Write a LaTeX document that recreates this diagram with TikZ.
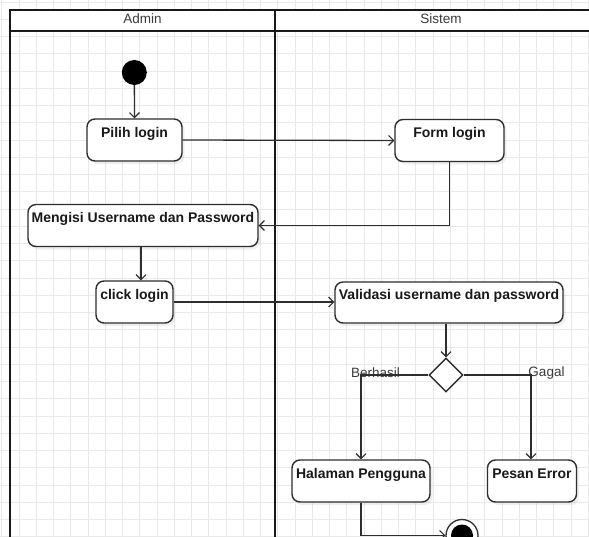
\documentclass[tikz,border=0pt]{standalone}
\usepackage{fontspec}
\setmainfont{Liberation Sans}
\usetikzlibrary{arrows.meta,shapes.geometric,shadows}

\definecolor{gridline}{HTML}{E9E9E9}
\definecolor{ink}{HTML}{2E2E2E}
\definecolor{labelgray}{HTML}{3A3A3A}

\tikzset{
  lane/.style={line width=2pt, draw=black!90},
  action/.style={draw=ink, line width=1.4pt, rounded corners=8pt, fill=white,
    drop shadow={opacity=0.12, shadow xshift=2.5pt, shadow yshift=-3pt},
    font=\fontsize{14}{15}\selectfont\bfseries, text=black!90,
    text height=10pt, text depth=16pt, inner xsep=2pt, anchor=center},
  decision/.style={draw=ink, line width=1.4pt, diamond, fill=white, aspect=1,
    minimum width=34pt, minimum height=34pt, inner sep=0pt},
  flow/.style={draw=ink, line width=1.3pt, -{Straight Barb[length=5pt,width=10pt,line width=1.1pt]}},
  guard/.style={font=\fontsize{13.5}{15}\selectfont, text=labelgray, inner sep=0pt},
  lanehead/.style={font=\fontsize{13.5}{15}\selectfont, text=labelgray, inner sep=0pt},
}

\begin{document}
\begin{tikzpicture}[x=1pt,y=-1pt]
\useasboundingbox (0,0) rectangle (589,536);
\clip (0,0) rectangle (589,536);

% background grid
\fill[white] (0,0) rectangle (589,536);
\foreach \i in {0,...,34} {
  \draw[gridline, line width=0.6pt] ({1.75+17.25*\i},0) -- ({1.75+17.25*\i},536);
  \draw[gridline, line width=0.6pt] (0,{2+17.25*\i}) -- (589,{2+17.25*\i});
}

% swimlanes
\fill[white] (10,9.5) rectangle (600,31);
\draw[lane] (600,9.5) -- (10,9.5) -- (10,545);
\draw[lane] (10,31) -- (600,31);
\draw[lane] (275,9.5) -- (275,545);
\node[lanehead] (hadmin) at (142.5,19) {Admin};
\node[lanehead] (hsistem) at (441,19) {Sistem};

% start and end
\node[circle, fill=black, minimum size=25pt, inner sep=0pt] (start) at (134.3,72.5) {};
\node[circle, draw=ink, line width=1.3pt, fill=white, minimum size=32pt, inner sep=0pt] (finish) at (462,535.5) {};
\node[circle, fill=black, minimum size=22pt, inner sep=0pt] (finishdot) at (finish.center) {};

% actions
\node[action, minimum width=95pt, minimum height=42pt] (pilih) at (134.5,140) {Pilih login};
\node[action, minimum width=109pt, minimum height=42pt] (form) at (449.5,140.5) {Form login};
\node[action, minimum width=230pt, minimum height=42pt] (isi) at (143,225.5) {Mengisi Username dan Password};
\node[action, minimum width=77pt, minimum height=42pt] (klik) at (134.5,302) {click login};
\node[action, minimum width=228pt, minimum height=41pt] (valid) at (449,302.5) {Validasi username dan password};
\node[decision] (dec) at (446,375) {};
\node[action, minimum width=138pt, minimum height=42pt] (halaman) at (361,481) {Halaman Pengguna};
\node[action, minimum width=89pt, minimum height=42pt] (pesan) at (532,481) {Pesan Error};

% guards
\node[guard] (gberhasil) at (375.5,373) {Berhasil};
\node[guard] (ggagal) at (546.5,373) {Gagal};

\coordinate (downx) at (141,0);
\coordinate (leftx) at (361,0);
\coordinate (rightx) at (531,0);

% control flow
\draw[flow] (start) -- (pilih.north);
\draw[flow] (pilih.east) -- (form.west);
\draw[flow] (form.south) |- (isi.east);
\draw[flow] (isi.south -| downx) -- (klik.north -| downx);
\draw[flow] (klik.east) -- (valid.west |- klik.east);
\draw[flow] (valid.south -| dec.north) -- (dec.north);
\draw[flow] (dec.west) -| (halaman.north -| leftx);
\draw[flow] (dec.east) -| (pesan.north -| rightx);
\draw[flow] (halaman.south -| leftx) |- (finish.west);
\end{tikzpicture}
\end{document}
